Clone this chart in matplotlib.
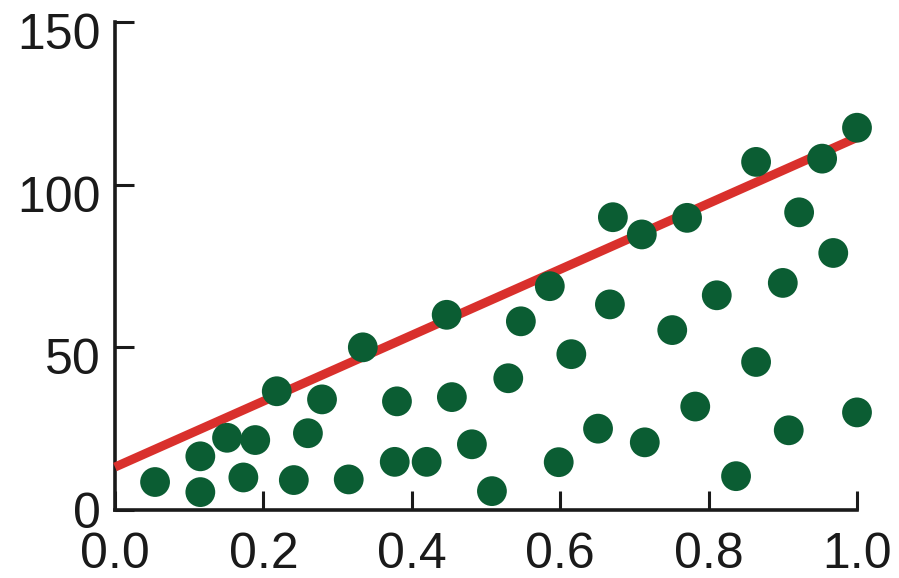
import numpy as np
import matplotlib
matplotlib.use('Agg')
import matplotlib.pyplot as plt
import matplotlib.transforms as mtransforms

plt.rcParams['font.family'] = ['Liberation Sans', 'DejaVu Sans']

# scatter points
x_vals = [0.054, 0.115, 0.115, 0.151, 0.173, 0.189, 0.218, 0.241, 0.260, 0.279,
          0.315, 0.334, 0.380, 0.377, 0.420, 0.447, 0.454, 0.481, 0.508, 0.530,
          0.547, 0.586, 0.615, 0.598, 0.651, 0.667, 0.671, 0.710, 0.714, 0.751,
          0.771, 0.782, 0.811, 0.837, 0.864, 0.864, 0.900, 0.908, 0.922, 0.953,
          0.968, 1.000, 1.000]
y_vals = [8.6, 16.5, 5.5, 22.2, 10.0, 21.5, 36.5, 9.2, 23.6, 34.0,
          9.4, 50.0, 33.4, 14.8, 14.8, 60.0, 34.7, 20.2, 5.8, 40.5,
          58.0, 68.8, 47.9, 14.7, 25.0, 63.2, 90.0, 84.7, 20.8, 55.3,
          89.8, 31.8, 66.0, 10.4, 107.0, 45.5, 69.8, 24.5, 91.5, 108.0,
          79.0, 30.0, 117.5]

# fitted line end points
line_x = [0.0, 1.0]
line_y = [13.2, 114.5]

x_ticks = [0.0, 0.2, 0.4, 0.6, 0.8, 1.0]
x_labels = ['0.0', '0.2', '0.4', '0.6', '0.8', '1.0']
y_ticks = [0, 50, 100, 150]
y_labels = ['0', '50', '100', '150']

fig = plt.figure(figsize=(8.99, 5.78), dpi=100)
ax = fig.add_axes([115 / 899, 68 / 578, 742 / 899, 488 / 578])

ax.plot(line_x, line_y, color='#d9302c', linewidth=6.5, solid_capstyle='butt',
        zorder=3, clip_on=False)
ax.scatter(x_vals, y_vals, s=460, color='#0b5d33', edgecolors='none',
           zorder=4, clip_on=False)

ax.set_xlim(0, 1)
ax.set_ylim(0, 150)
ax.set_xticks(x_ticks)
ax.set_xticklabels(x_labels)
ax.set_yticks(y_ticks)
ax.set_yticklabels(y_labels)

for side in ['top', 'right']:
    ax.spines[side].set_visible(False)
for side in ['left', 'bottom']:
    ax.spines[side].set_linewidth(2.6)
    ax.spines[side].set_color('#1a1a1a')

ax.tick_params(axis='both', direction='in', length=14, width=2.2,
               colors='#1a1a1a', labelsize=36)
ax.tick_params(axis='x', pad=16)
ax.tick_params(axis='y', pad=10)

# y labels (except 0) sit a little below their ticks in the original
offset = mtransforms.ScaledTranslation(0, -9 / 100, fig.dpi_scale_trans)
for lab in ax.get_yticklabels()[1:]:
    lab.set_transform(lab.get_transform() + offset)

fig.savefig('out.png', dpi=100)
